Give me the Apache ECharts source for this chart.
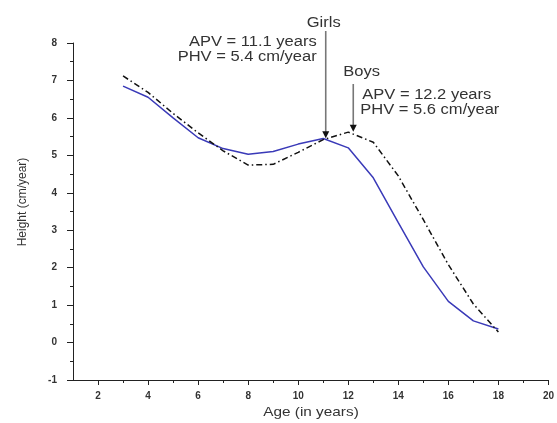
<!DOCTYPE html>
<html><head><meta charset="utf-8">
<script src="https://cdn.jsdelivr.net/npm/echarts@6/dist/echarts.min.js"></script>
<style>html,body{margin:0;padding:0;background:#fff}#c{width:557px;height:423px}</style>
</head><body><div id="c"></div>
<script>
const ages = [3,4,5,6,7,8,9,10,11,12,13,14,15,16,17,18];
const girls = [6.85,6.55,6.0,5.47,5.18,5.03,5.1,5.3,5.45,5.2,4.4,3.2,2.02,1.1,0.58,0.36];
const boys = [7.12,6.68,6.12,5.6,5.12,4.74,4.76,5.08,5.42,5.62,5.35,4.45,3.28,2.08,1.03,0.28];
const xMajorTicks = [2,4,6,8,10,12,14,16,18,20];
const xMinorTicks = [3,5,7,9,11,13,15,17,19];
const girlsPeak = {apv: 11.1, phv: 5.4};
const boysPeak = {apv: 12.2, phv: 5.6};

const FONT = 'Liberation Sans';
const TXT = '#333';
const chart = echarts.init(document.getElementById('c'), null, {renderer:'canvas'});
chart.setOption({
  animation:false,
  grid:{left:73, right:8, top:43, bottom:43},
  xAxis:[{
    type:'value', min:1, max:20, interval:1,
    axisLine:{onZero:false, lineStyle:{color:'#222', width:1}},
    axisTick:{show:true, length:5, lineStyle:{color:'#222'}, customValues:xMajorTicks},
    axisLabel:{customValues:xMajorTicks, fontFamily:FONT, fontSize:10, fontWeight:'bold', color:TXT, margin:11},
    splitLine:{show:false}
  },{
    type:'value', min:1, max:20, position:'bottom', gridIndex:0,
    axisLine:{show:false, onZero:false},
    axisTick:{show:true, length:3, lineStyle:{color:'#222'}, customValues:xMinorTicks},
    axisLabel:{show:false}, splitLine:{show:false}
  }],
  yAxis:{
    type:'value', min:-1, max:8, interval:1,
    axisLine:{show:true, onZero:false, lineStyle:{color:'#222', width:1}},
    axisTick:{show:true, length:6, lineStyle:{color:'#222'}},
    minorTick:{show:true, splitNumber:2, length:3, lineStyle:{color:'#222'}},
    axisLabel:{fontFamily:FONT, fontSize:10, fontWeight:'bold', color:TXT, margin:16},
    splitLine:{show:false}
  },
  series:[{
    name:'Girls', type:'line', data: ages.map((a,i)=>[a,girls[i]]),
    symbol:'none', lineStyle:{color:'#3a3ab8', width:1.5}
  },{
    name:'Boys', type:'line', data: ages.map((a,i)=>[a,boys[i]]),
    symbol:'none', lineStyle:{color:'#111', width:1.5, type:[6,3,1.5,3]}
  }]
});

function px(x,y){ return chart.convertToPixel({xAxisIndex:0, yAxisIndex:0}, [x,y]); }
const g = px(girlsPeak.apv, girlsPeak.phv);
const b = px(boysPeak.apv, boysPeak.phv);
const gTop = 31, bTop = 84;
function arrow(x, y0, y1){
  return [
    {type:'line', shape:{x1:x, y1:y0, x2:x, y2:y1-5}, style:{stroke:'#777', lineWidth:1.6}},
    {type:'polygon', shape:{points:[[x-3.5,y1-7],[x+3.5,y1-7],[x,y1]]}, style:{fill:'#111'}}
  ];
}
function txt(x,y,text,align,size){
  return {type:'text', x:x, y:y, scaleX:1.18, style:{text:text, fill:TXT, font:(size||14)+'px '+FONT, textAlign:align, textVerticalAlign:'middle'}};
}
const el = [].concat(
  arrow(g[0], gTop, g[1]-2),
  arrow(b[0], bTop, b[1]-1),
  [
    txt(g[0]-2, 23, 'Girls', 'center'),
    txt(g[0]-9, 42, 'APV = 11.1 years', 'right'),
    txt(g[0]-9, 57.5, 'PHV = 5.4 cm/year', 'right'),
    txt(b[0]-10, 72, 'Boys', 'left'),
    txt(b[0]+9, 95, 'APV = 12.2 years', 'left'),
    txt(b[0]+7, 110.5, 'PHV = 5.6 cm/year', 'left'),
    txt(311, 412, 'Age (in years)', 'center', 13),
    {type:'text', x:23, y:202, rotation:Math.PI/2, style:{text:'Height (cm/year)', fill:TXT, font:'12px '+FONT, textAlign:'center', textVerticalAlign:'middle'}}
  ]
);
chart.setOption({graphic:{elements:el}});
</script></body></html>
